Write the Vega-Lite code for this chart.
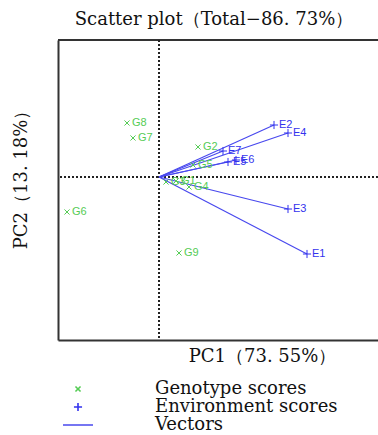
{
  "$schema": "https://vega.github.io/schema/vega-lite/v6.json",
  "width": 320,
  "height": 300,
  "autosize": {"type": "none"},
  "padding": {"left": 58, "top": 40, "right": 0, "bottom": 95},
  "background": "white",
  "title": {"text": "Scatter plot（Total−86. 73%）", "font": "DejaVu Serif", "fontSize": 18, "fontWeight": "normal", "color": "#111", "anchor": "middle", "dx": -4, "offset": 10},
  "config": {
    "view": {"stroke": null},
    "axis": {"ticks": false, "labels": false, "grid": false, "domainColor": "#333", "domainWidth": 2, "titleFont": "DejaVu Serif", "titleFontSize": 18, "titleFontWeight": "normal", "titleColor": "#111"},
    "legend": {"orient": "none", "legendX": 4, "legendY": 342, "title": null, "labelFont": "DejaVu Serif", "labelFontSize": 18, "labelColor": "#111", "symbolSize": 900, "symbolStrokeWidth": 1.6, "labelOffset": 61, "rowPadding": 0, "clipHeight": 14, "padding": 0, "labelLimit": 400}
  },
  "data": {"values": [
    {"label": "G1", "type": "Genotype scores", "x": 0.34, "y": -0.08},
    {"label": "G2", "type": "Genotype scores", "x": 0.78, "y": 0.60},
    {"label": "G3", "type": "Genotype scores", "x": 0.14, "y": -0.10},
    {"label": "G4", "type": "Genotype scores", "x": 0.60, "y": -0.20},
    {"label": "G5", "type": "Genotype scores", "x": 0.68, "y": 0.24},
    {"label": "G6", "type": "Genotype scores", "x": -1.84, "y": -0.70},
    {"label": "G7", "type": "Genotype scores", "x": -0.52, "y": 0.78},
    {"label": "G8", "type": "Genotype scores", "x": -0.64, "y": 1.08},
    {"label": "G9", "type": "Genotype scores", "x": 0.40, "y": -1.52},
    {"label": "E1", "type": "Environment scores", "x": 2.96, "y": -1.54},
    {"label": "E2", "type": "Environment scores", "x": 2.30, "y": 1.04},
    {"label": "E3", "type": "Environment scores", "x": 2.58, "y": -0.64},
    {"label": "E4", "type": "Environment scores", "x": 2.58, "y": 0.88},
    {"label": "E5", "type": "Environment scores", "x": 1.38, "y": 0.30},
    {"label": "E6", "type": "Environment scores", "x": 1.54, "y": 0.34},
    {"label": "E7", "type": "Environment scores", "x": 1.28, "y": 0.52},
    {"label": "E1", "type": "Vectors", "x": 0, "y": 0},
    {"label": "E1", "type": "Vectors", "x": 2.96, "y": -1.54},
    {"label": "E2", "type": "Vectors", "x": 0, "y": 0},
    {"label": "E2", "type": "Vectors", "x": 2.30, "y": 1.04},
    {"label": "E3", "type": "Vectors", "x": 0, "y": 0},
    {"label": "E3", "type": "Vectors", "x": 2.58, "y": -0.64},
    {"label": "E4", "type": "Vectors", "x": 0, "y": 0},
    {"label": "E4", "type": "Vectors", "x": 2.58, "y": 0.88},
    {"label": "E5", "type": "Vectors", "x": 0, "y": 0},
    {"label": "E5", "type": "Vectors", "x": 1.38, "y": 0.30},
    {"label": "E6", "type": "Vectors", "x": 0, "y": 0},
    {"label": "E6", "type": "Vectors", "x": 1.54, "y": 0.34},
    {"label": "E7", "type": "Vectors", "x": 0, "y": 0},
    {"label": "E7", "type": "Vectors", "x": 1.28, "y": 0.52}
  ]},
  "layer": [
    {
      "mark": {"type": "rule", "stroke": "#333", "strokeWidth": 2},
      "encoding": {"y": {"datum": 2.74, "type": "quantitative"}}
    },
    {
      "mark": {"type": "rule", "stroke": "#222", "strokeWidth": 1, "strokeDash": [2, 2]},
      "encoding": {"x": {"datum": 0, "type": "quantitative"}}
    },
    {
      "mark": {"type": "rule", "stroke": "#222", "strokeWidth": 1, "strokeDash": [2, 2]},
      "encoding": {"y": {"datum": 0, "type": "quantitative"}}
    },
    {
      "transform": [{"filter": "datum.type === 'Vectors'"}],
      "mark": {"type": "line", "strokeWidth": 1.2},
      "encoding": {
        "x": {"field": "x", "type": "quantitative"},
        "y": {"field": "y", "type": "quantitative"},
        "detail": {"field": "label"},
        "order": {"field": "x"},
        "color": {"field": "type", "type": "nominal"}
      }
    },
    {
      "transform": [{"filter": "datum.type !== 'Vectors'"}],
      "mark": {"type": "point", "filled": false, "strokeWidth": 1, "size": 900, "opacity": 1},
      "encoding": {
        "x": {"field": "x", "type": "quantitative", "scale": {"domain": [-2.02, 4.38], "nice": false, "zero": false},
          "axis": {"title": "PC1（73. 55%）", "titleX": 204, "titleY": 16, "titleBaseline": "middle"}},
        "y": {"field": "y", "type": "quantitative", "scale": {"domain": [-3.26, 2.74], "nice": false, "zero": false},
          "axis": {"title": "PC2（13. 18%）", "titleX": -37, "titleY": 135, "titleAngle": 270, "titleBaseline": "middle", "titleAlign": "center"}},
        "color": {"field": "type", "type": "nominal",
          "scale": {"domain": ["Genotype scores", "Environment scores", "Vectors"], "range": ["#55cc55", "#3333ee", "#4848ee"]}},
        "shape": {"field": "type", "type": "nominal",
          "scale": {"domain": ["Genotype scores", "Environment scores", "Vectors"], "range": ["M-0.17,-0.17L0.17,0.17M-0.17,0.17L0.17,-0.17", "M-0.27,0L0.27,0M0,-0.27L0,0.27", "M-1,0L1,0"]}}
      }
    },
    {
      "transform": [{"filter": "datum.type !== 'Vectors'"}],
      "mark": {"type": "text", "align": "left", "baseline": "middle", "dx": 5, "font": "Liberation Sans", "fontSize": 11},
      "encoding": {
        "x": {"field": "x", "type": "quantitative"},
        "y": {"field": "y", "type": "quantitative"},
        "text": {"field": "label"},
        "color": {"field": "type", "type": "nominal"}
      }
    }
  ]
}
